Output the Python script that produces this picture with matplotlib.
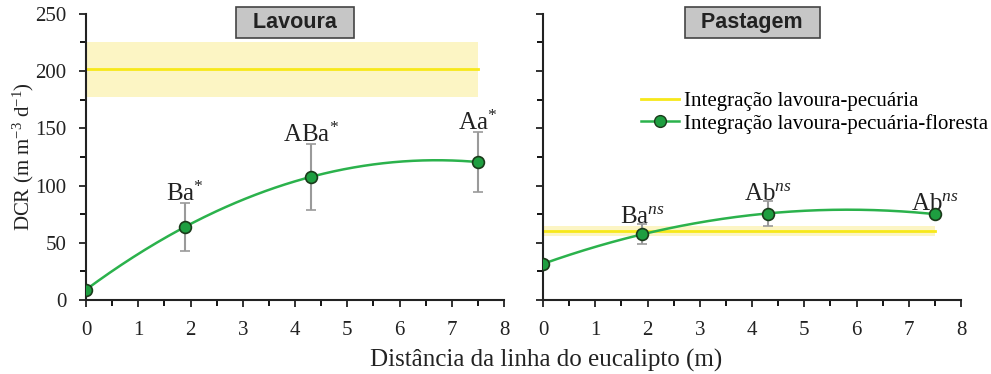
import matplotlib
matplotlib.use('Agg')
import matplotlib.pyplot as plt
import numpy as np
from matplotlib.ticker import MultipleLocator

# Distance from eucalyptus row (m)
dist = np.array([0, 1.9, 4.3, 7.5])

# DCR, crop (Lavoura) and pasture (Pastagem)
lav_ilpf = np.array([9, 64, 107.5, 120.5])
lav_err = np.array([0, 21, 29, 26.5])
lav_labels = ['', 'Ba$^{*}$', 'ABa$^{*}$', 'Aa$^{*}$']
lav_ilp_mean = 201.5
lav_ilp_sd = 24

pas_ilpf = np.array([31.5, 57.5, 75.5, 75])
pas_err = np.array([0, 8.5, 11, 2])
pas_labels = ['', 'Ba$^{ns}$', 'Ab$^{ns}$', 'Ab$^{ns}$']
pas_ilp_mean = 60.5
pas_ilp_sd = 4.5

plt.rcParams['font.family'] = 'Liberation Serif'
plt.rcParams['mathtext.fontset'] = 'custom'
plt.rcParams['mathtext.rm'] = 'Liberation Serif'
plt.rcParams['mathtext.it'] = 'Liberation Serif:italic'

GREEN = '#2bb24c'
MARK = '#1e9e40'
YELLOW = '#f7e81a'
BAND = '#fcf5c4'
INK = '#222222'

fig = plt.figure(figsize=(9.91, 3.74), dpi=100)
ax1 = fig.add_axes([0.0868, 0.198, 0.4218, 0.765])
ax2 = fig.add_axes([0.548, 0.198, 0.4218, 0.765])


def draw_panel(ax, y, err, labels, mean, sd, title):
    ax.fill_between([dist[0], dist[-1]], mean - sd, mean + sd, color=BAND, lw=0, zorder=1)
    ax.plot([dist[0], dist[-1]], [mean, mean], color=YELLOW, lw=2, zorder=2)
    # quadratic trend through the means
    coef = np.polyfit(dist, y, 2)
    xs = np.linspace(dist[0], dist[-1], 200)
    ax.plot(xs, np.polyval(coef, xs), color=GREEN, lw=1.8, zorder=3)
    ax.errorbar(dist, y, yerr=err, fmt='none', ecolor='#9a9a9a', elinewidth=1.5,
                capsize=3.5, capthick=1.2, zorder=4)
    ax.plot(dist, y, 'o', color=MARK, mec='#1a3a1a', mew=1.2, ms=8.5, zorder=5)
    for xi, yi, ei, lab in zip(dist, y, err, labels):
        if lab:
            ax.annotate(lab, (xi, yi + ei), xytext=(0, 1), textcoords='offset points',
                        ha='center', va='baseline', fontsize=18, color=INK)
    ax.text(4, 242.5, '  ' + title + '  ', ha='center', va='center', fontsize=15.5,
            fontweight='bold', family='Liberation Sans', color=INK,
            bbox=dict(boxstyle='square,pad=0.22', fc='#c6c6c6', ec='#444444', lw=1.2))

    ax.set_xlim(0, 8)
    ax.set_ylim(0, 250)
    ax.xaxis.set_major_locator(MultipleLocator(1))
    ax.xaxis.set_minor_locator(MultipleLocator(0.5))
    ax.yaxis.set_major_locator(MultipleLocator(50))
    ax.yaxis.set_minor_locator(MultipleLocator(25))
    ax.tick_params(which='major', direction='out', length=5, width=1.3, labelsize=15, colors=INK)
    ax.tick_params(which='minor', direction='out', length=4, width=1.3)
    ax.tick_params(axis='x', which='major', pad=10)
    ax.tick_params(axis='y', which='major', pad=9)
    ax.spines['top'].set_visible(False)
    ax.spines['right'].set_visible(False)
    for s in ('left', 'bottom'):
        ax.spines[s].set_linewidth(1.5)
        ax.spines[s].set_color(INK)


draw_panel(ax1, lav_ilpf, lav_err, lav_labels, lav_ilp_mean, lav_ilp_sd, 'Lavoura')
draw_panel(ax2, pas_ilpf, pas_err, pas_labels, pas_ilp_mean, pas_ilp_sd, 'Pastagem')
ax2.tick_params(axis='y', labelleft=False)

ax1.set_ylabel('DCR (m m$^{-3}$ d$^{-1}$)', fontsize=15, color=INK)
ax1.yaxis.set_label_coords(-0.12, 0.5)
fig.text(0.551, 0.036, 'Distância da linha do eucalipto (m)', ha='center', va='center',
         fontsize=18, color=INK)

# legend on the pasture panel
h_ilp = plt.Line2D([], [], color=YELLOW, lw=2)
h_ilpf = plt.Line2D([], [], color=GREEN, lw=1.8, marker='o', mfc=MARK, mec='#1a3a1a', ms=8.5)
ax2.legend([h_ilp, h_ilpf], ['Integração lavoura-pecuária', 'Integração lavoura-pecuária-floresta'],
           loc='upper left', bbox_to_anchor=(0.235, 0.728), frameon=False, fontsize=15,
           handlelength=1.8, handletextpad=0.25, labelspacing=0.12, borderaxespad=0,
           borderpad=0)

fig.savefig('out.png', dpi=100)
